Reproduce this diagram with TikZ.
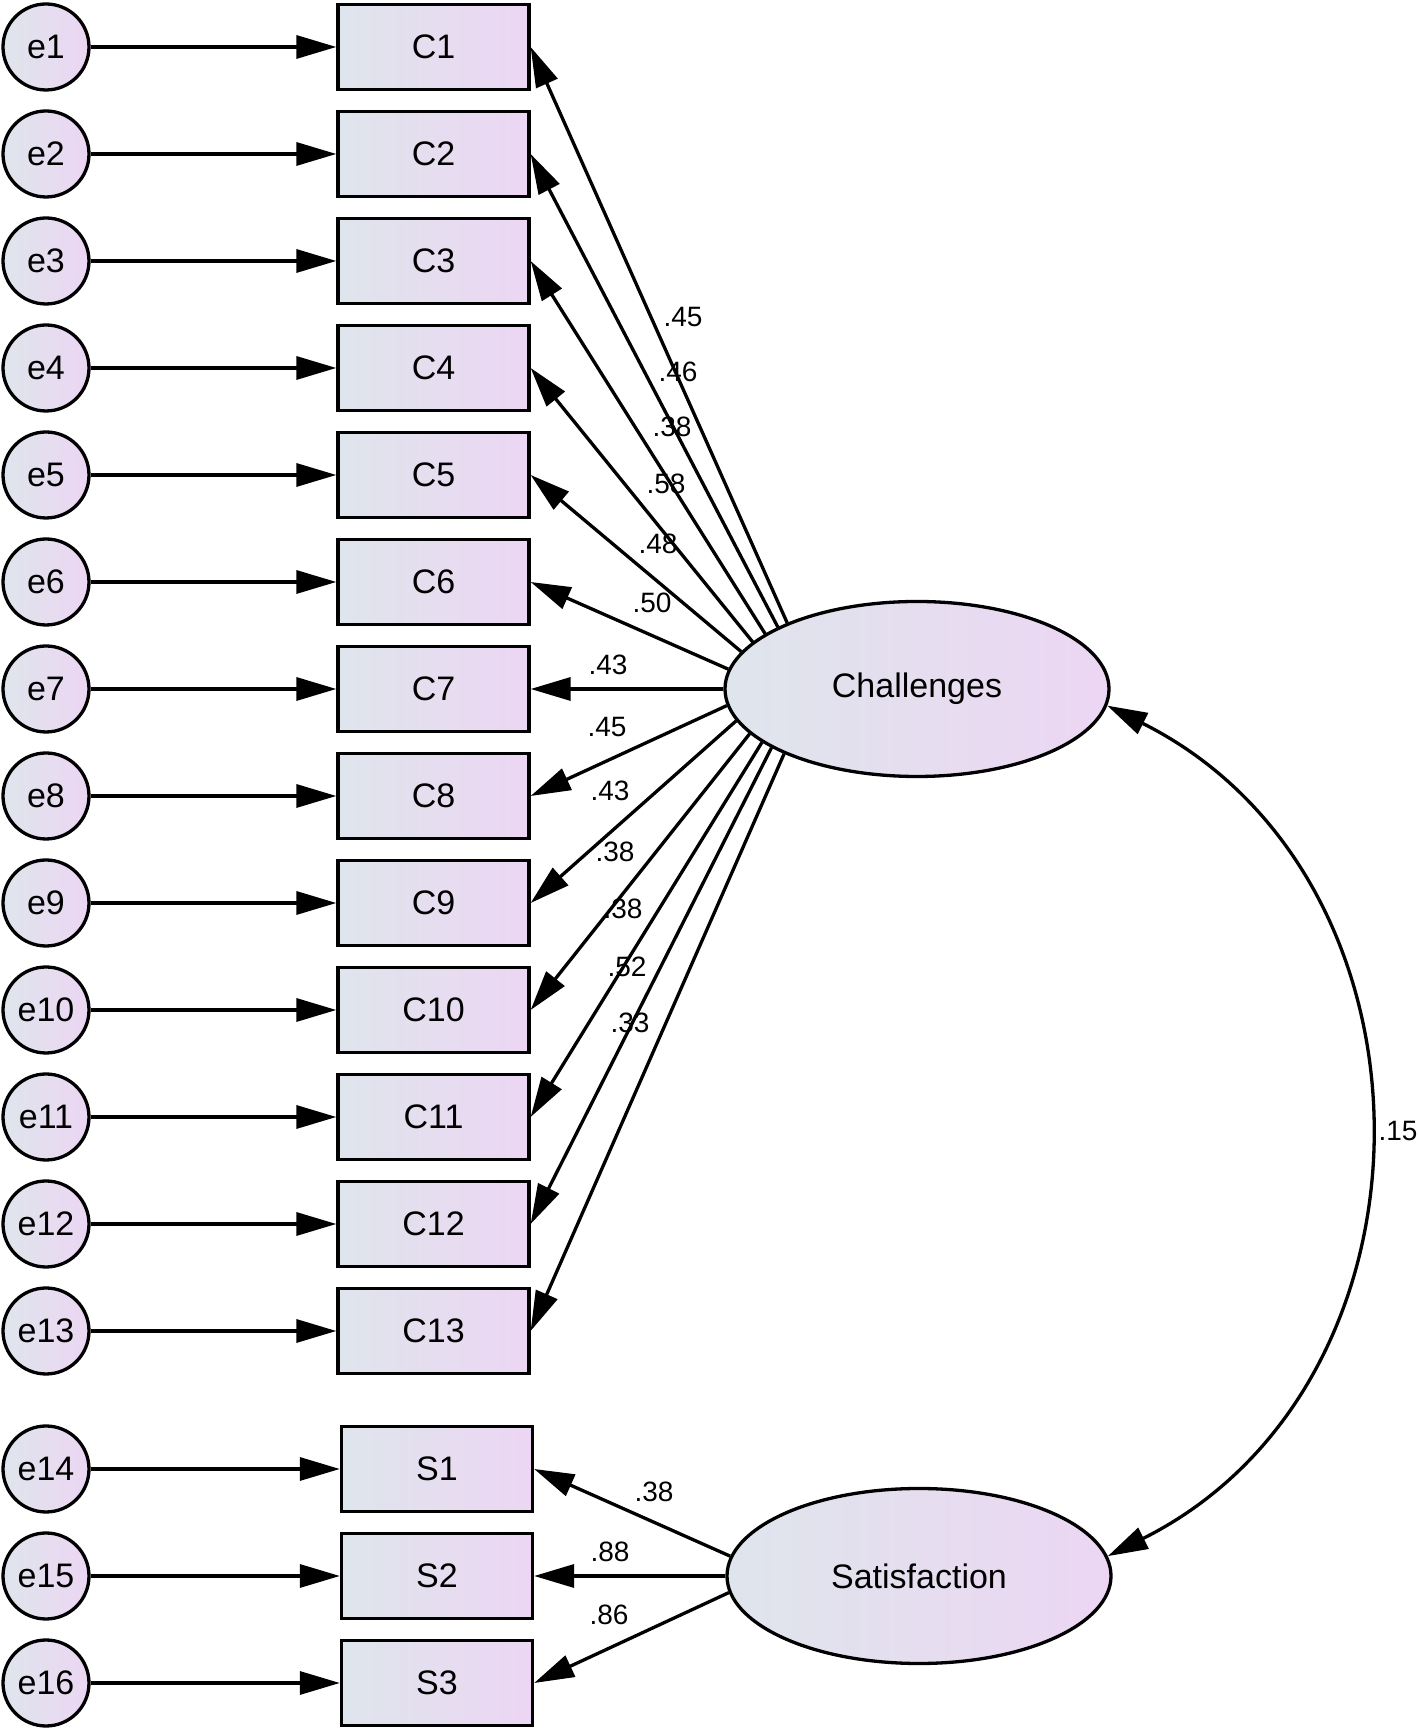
\documentclass[tikz,border=0pt]{standalone}
\usepackage{fontspec}
\setmainfont{Liberation Sans}
\usetikzlibrary{arrows.meta,shapes.geometric}
\definecolor{gL}{RGB}{223,229,236}
\definecolor{gR}{RGB}{236,214,243}
\begin{document}
\begin{tikzpicture}[x=1pt,y=1pt,
  nfont/.style={font=\fontsize{34}{40}\selectfont},
  obs/.style={draw, rectangle, line width=3.3pt, minimum width=191pt, minimum height=85pt, inner sep=0pt, left color=gL, right color=gR, nfont},
  err/.style={draw, circle, line width=3.3pt, minimum size=86pt, inner sep=0pt, left color=gL, right color=gR, nfont},
  lat/.style={draw, ellipse, line width=3.3pt, minimum width=384pt, minimum height=175pt, inner sep=0pt, left color=gL, right color=gR, nfont},
  load/.style={line width=3.3pt, -{Triangle[length=40pt,width=23pt]}},
  corr/.style={line width=3.3pt, {Triangle[length=40pt,width=23pt]}-{Triangle[length=40pt,width=23pt]}},
  lab/.style={font=\fontsize{28}{32}\selectfont, inner sep=0pt}
]
\useasboundingbox (0,0) rectangle (1418,1730);
% Challenges items
\foreach \i in {1,...,13}{
  \pgfmathsetmacro\Y{1683-107*(\i-1)}
  \node[obs] (C\i) at (433.5,\Y) {C\i};
  \node[err] (e\i) at (46,\Y) {e\i};
  \draw[load] (e\i) -- (C\i);
}
% Satisfaction items
\foreach \i/\Y in {1/261,2/154,3/47}{
  \pgfmathtruncatemacro\k{13+\i}
  \node[obs] (S\i) at (437,\Y) {S\i};
  \node[err] (e\k) at (46,\Y) {e\k};
  \draw[load] (e\k) -- (S\i);
}
% latent variables
\node[lat] (ch) at (917,1041) {Challenges};
\node[lat] (sat) at (919,154) {Satisfaction};
% loadings
\foreach \i/\a in {1/153.6,2/156.5,3/160,4/164.1,5/168.5,6/174.1,7/180,8/185.5,9/190.8,10/195.2,11/199.2,12/202.8,13/206.2}{
  \draw[load] (ch.\a) -- (C\i.east);
}
\foreach \i/\a in {1/174,2/180,3/185}{
  \draw[load] (sat.\a) -- (S\i.east);
}
% correlation
\draw[corr] (ch.-5.6) to[out=-26.6, in=26.6, looseness=1.16] (sat.6);
% labels
\node[lab] (l1) at (683,1413) {.45};
\node[lab] (l2) at (678,1358) {.46};
\node[lab] (l3) at (672,1303) {.38};
\node[lab] (l4) at (666,1246) {.58};
\node[lab] (l5) at (658,1186) {.48};
\node[lab] (l6) at (652,1127) {.50};
\node[lab] (l7) at (608,1065) {.43};
\node[lab] (l8) at (607,1003) {.45};
\node[lab] (l9) at (610,939) {.43};
\node[lab] (l10) at (615,878) {.38};
\node[lab] (l11) at (623,821) {.38};
\node[lab] (l12) at (627,763) {.52};
\node[lab] (l13) at (630,707) {.33};
\node[lab] (ls1) at (654,238) {.38};
\node[lab] (ls2) at (610,178) {.88};
\node[lab] (ls3) at (609,115) {.86};
\node[lab] (lc) at (1398,599) {.15};
\end{tikzpicture}
\end{document}
